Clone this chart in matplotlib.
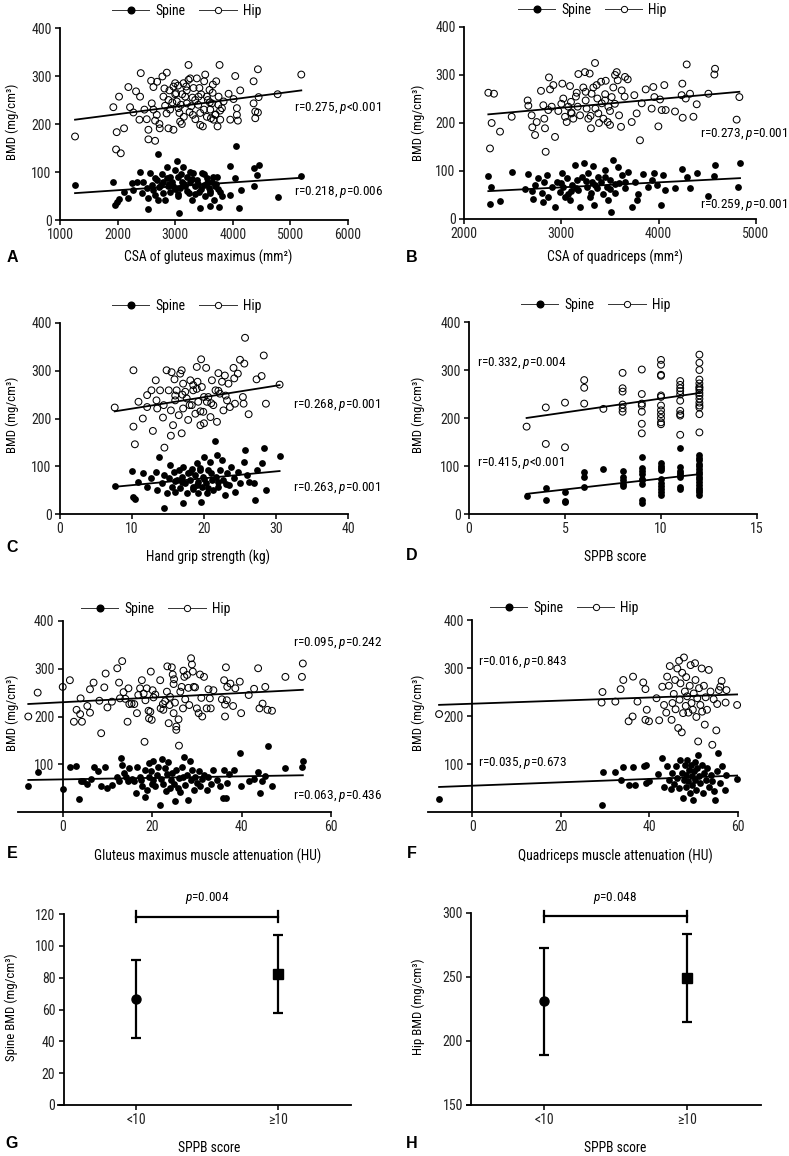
import numpy as np
import matplotlib.pyplot as plt
from matplotlib import font_manager
from matplotlib.lines import Line2D

# ---- data (x, BMD mg/cm3) ----
a_hip = [(1261,174),(1973,147),(2055,139),(1984,183),(2112,191),(1926,235),(2025,257),(2187,277),
         (2216,235),(2274,224),(2320,268),(2402,306),(2390,257),(2379,209),(2466,230),(2506,210),
         (2535,188),(2535,168),(2651,165),(2582,290),(2622,277),(2593,243),(2622,230),(2680,219),
         (2651,207),(2726,200),(2686,288),(2732,191),(2778,299),(2854,307),(2813,274),(2796,257),
         (2825,238),(2883,250),(2912,230),(2883,191),(2970,188),(2970,278),(2999,285),(3016,264),
         (3028,247),(3057,233),(3074,223),(3086,205),(3115,200),(3144,285),(3173,257),(3190,278),
         (3202,243),(3231,292),(3231,323),(3260,295),(3277,237),(3306,219),(3318,275),(3347,250),
         (3376,295),(3405,257),(3434,223),(3434,198),(3480,195),(3503,289),(3521,303),(3550,257),
         (3567,250),(3596,271),(3608,230),(3637,243),(3654,282),(3666,209),(3695,219),(3712,289),
         (3735,195),(3753,257),(3770,323),(3782,209),(3811,233),(3840,247),(3927,263),(3956,209),
         (4013,252),(4042,300),(4071,233),(4071,219),(4088,207),(4129,270),(4361,289),(4361,243),
         (4390,226),(4390,212),(4436,314),(4448,256),(4436,224),(4778,262),(5189,303),
         (2950,245),(3000,262),(3050,280),(3100,240),(3150,215),(3200,270),(3250,225),(3300,255),
         (3350,210),(3400,240),(3450,262),(3500,230),(3550,215),(3600,245),(3650,265),(3700,220),
         (3750,240),(2900,270),(2850,222),(3120,262),(3420,275),(3620,212),(3780,228)]
a_spine = [(1261,72),(1926,80),(1955,31),(1984,38),(2031,43),(2112,59),(2187,45),(2245,78),
           (2274,63),(2332,80),(2390,101),(2419,56),(2448,80),(2506,66),(2535,23),(2535,45),
           (2564,97),(2593,73),(2622,63),(2651,52),(2680,83),(2698,138),(2709,42),(2726,68),
           (2767,95),(2784,56),(2796,80),(2825,42),(2854,111),(2883,70),(2912,90),(2912,59),
           (2941,80),(2970,70),(2999,104),(3028,122),(3040,49),(3057,90),(3074,14),(3086,66),
           (3115,80),(3144,111),(3173,70),(3202,90),(3231,56),(3260,80),(3289,42),(3306,97),
           (3347,70),(3376,83),(3405,59),(3434,24),(3463,97),(3492,73),(3521,49),(3550,87),
           (3579,66),(3596,29),(3608,56),(3637,80),(3666,42),(3695,70),(3724,90),(3753,28),
           (3782,59),(3811,49),(3956,113),(3956,52),(4059,154),(4042,87),(4100,26),(4146,63),
           (4361,70),(4373,108),(4419,94),(4448,115),(4778,47),(5189,92),
           (2900,75),(3000,65),(3100,95),(3200,60),(3300,85),(3400,75),(3500,95),(3600,60),
           (3700,75),(3050,55),(3250,100),(3450,65),(2850,88),(3150,75),(3350,55),(3550,78),
           (3650,90),(3750,65),(2750,72),(2650,88)]

b_hip = [(2250,263),(2308,261),(2267,147),(2284,200),(2370,182),(2490,213),(2654,247),(2661,236),
         (2695,216),(2702,191),(2730,175),(2747,202),(2791,267),(2815,237),(2825,209),(2832,189),
         (2839,140),(2866,227),(2873,295),(2884,270),(2901,234),(2918,279),(2935,171),(2969,225),
         (3010,282),(3020,251),(3038,213),(3055,202),(3072,234),(3089,277),(3099,244),(3106,220),
         (3123,209),(3158,263),(3168,234),(3175,302),(3192,216),(3226,274),(3243,306),(3250,247),
         (3260,230),(3277,209),(3291,303),(3304,189),(3311,261),(3329,274),(3346,325),(3363,279),
         (3370,251),(3380,220),(3387,200),(3408,286),(3415,241),(3432,209),(3449,247),(3456,288),
         (3476,202),(3483,234),(3500,196),(3517,254),(3534,274),(3552,300),(3569,306),(3579,289),
         (3593,216),(3613,192),(3620,268),(3654,296),(3682,291),(3723,202),(3750,258),(3774,220),
         (3808,164),(3826,241),(3867,270),(3928,230),(3945,275),(3956,254),(3997,193),(4014,249),
         (4031,227),(4058,279),(4072,227),(4168,224),(4236,258),(4243,282),(4247,211),(4288,322),
         (4278,251),(4322,261),(4357,213),(4391,239),(4511,261),(4572,301),(4579,313),(4801,207),
         (4829,254),(3000,240),(3150,255),(3250,265),(3350,230),(3450,260),(3550,240),(3650,255),
         (3100,222),(3300,215),(3500,225)]
b_spine = [(2250,90),(2277,67),(2267,31),(2370,37),(2490,97),(2627,62),(2654,94),(2695,58),
           (2712,41),(2730,71),(2764,85),(2798,55),(2815,36),(2825,78),(2849,92),(2866,46),
           (2901,67),(2935,24),(2952,78),(2986,57),(3003,95),(3020,67),(3038,46),(3055,85),
           (3072,53),(3089,40),(3106,71),(3141,112),(3158,81),(3175,60),(3192,26),(3209,88),
           (3236,117),(3260,67),(3277,95),(3291,46),(3311,78),(3329,111),(3339,29),(3363,64),
           (3380,88),(3408,78),(3432,53),(3449,102),(3466,67),(3483,40),(3500,81),(3510,15),
           (3534,123),(3552,55),(3579,109),(3593,74),(3620,92),(3654,64),(3688,98),(3729,26),
           (3757,78),(3774,40),(3791,53),(3843,94),(3894,67),(3928,81),(3956,96),(3980,71),
           (4024,30),(4048,92),(4065,60),(4168,64),(4243,105),(4288,88),(4322,64),(4391,96),
           (4511,48),(4579,112),(4572,89),(4811,67),(4836,116),
           (3000,75),(3150,65),(3250,80),(3350,70),(3450,88),(3550,72),(3650,78),(3100,58),
           (3300,55),(3500,62)]

c_hip = [(7.6,223),(10.2,301),(10.2,183),(10.4,146),(10.9,235),(11.5,200),(12.1,249),(12.1,224),
         (12.7,259),(12.9,174),(13.3,280),(13.4,238),(13.5,221),(13.9,259),(14.3,202),(14.4,228),
         (14.5,139),(14.8,301),(15.1,259),(15.4,217),(15.4,164),(15.5,297),(15.7,186),(15.9,282),
         (16.0,238),(16.2,259),(16.5,207),(16.7,294),(16.9,169),(16.9,301),(17.1,273),(17.1,221),
         (17.4,256),(17.6,242),(17.8,197),(18.1,280),(18.3,228),(18.5,259),(18.8,210),(19.0,308),
         (19.1,277),(19.2,235),(19.5,186),(19.6,324),(19.7,266),(19.9,214),(20.0,190),(20.3,306),
         (20.4,235),(20.6,245),(20.9,203),(21.1,280),(21.3,228),(21.6,259),(21.8,193),(22.0,295),
         (22.2,252),(22.5,277),(22.7,217),(22.9,290),(23.2,238),(23.4,273),(23.6,224),(24.1,306),
         (24.2,284),(24.3,231),(24.7,294),(25.0,323),(25.4,245),(25.5,231),(25.6,315),(25.7,369),
         (26.2,209),(27.3,282),(28.0,289),(28.3,332),(28.6,231),(30.5,271),
         (17,250),(18,228),(19,262),(20,245),(21,232),(22,258),(19.5,215),(18.5,270),(16,248),(23,248)]
c_spine = [(7.6,59),(10.0,91),(10.2,36),(10.4,31),(10.9,66),(11.5,85),(12.1,57),(12.7,75),
           (13.4,88),(13.5,50),(13.8,120),(14.1,64),(14.4,82),(14.5,12),(14.8,43),(15.1,75),
           (15.3,102),(15.5,57),(15.8,88),(16.0,47),(16.2,71),(16.5,92),(16.7,54),(16.9,78),
           (17.1,22),(17.1,99),(17.4,64),(17.6,43),(17.8,85),(18.1,71),(18.3,95),(18.5,57),
           (18.8,82),(19.0,106),(19.1,43),(19.2,68),(19.5,92),(19.6,26),(19.7,57),(19.9,78),
           (20.0,120),(20.3,64),(20.4,43),(20.6,92),(20.9,109),(21.1,71),(21.3,50),(21.5,153),
           (21.6,78),(21.8,123),(22.0,57),(22.2,92),(22.5,113),(22.7,71),(22.9,40),(23.2,85),
           (23.5,61),(23.7,99),(24.1,75),(24.3,47),(24.7,88),(25.0,64),(25.5,109),(25.7,135),
           (26.0,82),(26.2,66),(27.0,64),(27.1,29),(27.3,93),(28.0,106),(28.4,139),(28.6,50),
           (30.5,122),(17,66),(18,88),(19,60),(20,74),(21,86),(22,66),(19.5,96),(18.5,52),
           (16,70),(23,62),(20.5,55)]

d_hip = [(3,182),(4,222),(4,146),(5,232),(5,139),(6,279),(6,263),(6,230),(7,219),
         (8,294),(8,262),(8,255),(8,228),(8,220),(8,213),
         (9,301),(9,250),(9,230),(9,226),(9,213),(9,188),(9,168),
         (10,321),(10,311),(10,290),(10,288),(10,247),(10,244),(10,226),(10,216),(10,208),
         (10,200),(10,191),(10,187),
         (11,277),(11,269),(11,262),(11,256),(11,249),(11,236),(11,215),(11,208),(11,205),(11,165),
         (12,332),(12,315),(12,300),(12,280),(12,272),(12,265),(12,262),(12,258),(12,252),
         (12,247),(12,240),(12,232),(12,226),(12,222),(12,208),(12,170)]
d_spine = [(3,37),(4,54),(4,29),(5,45),(5,27),(5,24),(6,88),(6,77),(6,56),(7,93),
           (8,90),(8,78),(8,70),(8,63),(8,58),
           (9,119),(9,96),(9,90),(9,83),(9,73),(9,70),(9,62),(9,29),(9,22),
           (10,106),(10,101),(10,96),(10,91),(10,73),(10,65),(10,58),(10,52),(10,45),(10,40),
           (11,137),(11,97),(11,90),(11,86),(11,81),(11,77),(11,56),(11,52),
           (12,122),(12,117),(12,112),(12,105),(12,99),(12,94),(12,88),(12,83),(12,78),
           (12,72),(12,66),(12,60),(12,55),(12,50),(12,45),(12,40)]

e_hip = [(-7.7,200),(-5.6,250),(0,262),(1.6,276),(2.5,189),(3.1,214),(3.9,205),(4.0,238),
         (4.3,189),(5.5,222),(6.1,257),(6.1,208),(6.9,271),(8.6,165),(8.2,233),(9.3,261),
         (9.6,290),(10.0,219),(11.0,231),(12.2,301),(12.6,271),(12.8,238),(13.3,316),(13.6,251),
         (14.0,237),(14.5,189),(14.7,259),(14.9,226),(15.4,227),(16.0,226),(16.6,207),(16.9,245),
         (17.3,259),(17.7,276),(18.1,248),(18.3,147),(18.5,234),(18.8,259),(19.2,212),(19.3,196),
         (19.6,210),(19.7,294),(19.9,193),(20.1,255),(20.3,240),(20.7,246),(21.8,276),(21.9,217),
         (22.4,226),(22.5,214),(22.9,232),(23.3,252),(23.4,305),(23.7,186),(23.9,224),(24.0,241),
         (24.4,303),(24.6,288),(24.8,207),(24.8,268),(24.9,278),(25.1,229),(25.4,179),(25.4,172),
         (25.9,194),(26.0,139),(26.3,252),(26.6,262),(26.9,217),(27.0,296),(27.2,283),(27.4,236),
         (27.8,287),(28.1,260),(28.3,224),(28.7,322),(28.9,309),(29.1,294),(29.3,262),(29.6,261),
         (30.0,217),(30.4,207),(30.7,288),(31.0,239),(31.2,200),(31.6,283),(32.2,217),(32.6,257),
         (32.9,238),(33.1,217),(33.7,255),(35.6,236),(36.1,276),(36.3,200),(36.3,225),(36.5,303),
         (36.7,234),(36.8,262),(37.5,269),(38.1,222),(38.6,259),(39.6,273),(39.9,207),(41.6,245),
         (42.8,258),(43.7,301),(44.0,217),(44.7,227),(45.3,262),(45.8,214),(46.8,212),(49.8,283),
         (53.5,283),(53.7,311)]
e_spine = [(-7.7,55),(-5.6,83),(0,48),(1.6,95),(3.0,97),(3.7,28),(4.0,64),(4.5,64),(5.4,59),
           (6.3,69),(6.9,95),(8.0,85),(8.6,54),(9.5,94),(10.0,50),(11.0,56),(12.2,74),(12.6,64),
           (13.1,113),(13.2,99),(13.6,81),(14.2,74),(14.5,64),(14.9,92),(15.4,69),(15.9,64),
           (16.4,40),(16.7,94),(17.2,74),(17.5,67),(17.8,54),(18.3,31),(18.5,88),(18.8,47),
           (19.2,74),(19.4,102),(19.7,85),(19.9,59),(20.1,106),(20.3,67),(20.7,54),(21.0,78),
           (21.4,95),(21.7,14),(21.9,69),(22.2,111),(22.5,59),(22.8,92),(23.1,43),(23.3,79),
           (23.5,104),(23.9,50),(24.2,67),(24.4,81),(24.8,59),(25.2,24),(25.4,88),(25.7,50),
           (25.9,71),(26.3,42),(26.6,95),(26.9,74),(27.2,115),(27.4,57),(27.8,78),(28.1,26),
           (28.4,106),(28.7,67),(28.9,88),(29.3,47),(29.6,74),(30.0,61),(30.4,85),(30.7,54),
           (31.1,69),(31.5,78),(32.2,47),(32.6,74),(33.1,59),(33.7,88),(34.5,67),(35.2,54),
           (35.8,29),(36.1,88),(36.6,29),(36.7,61),(37.3,79),(38.2,87),(39.9,55),(39.7,123),
           (41.6,64),(42.7,69),(43.6,83),(44.2,40),(44.6,64),(45.3,76),(46.0,138),(46.8,54),
           (49.8,92),(53.5,94),(53.7,106)]

f_hip = [(-7.5,204),(29.4,250),(29.2,228),(32.3,230),(33.5,256),(34.1,275),(35.3,189),(36.2,199),
         (36.3,282),(37.3,230),(38.6,270),(39.1,256),(39.1,192),(39.4,213),(39.9,189),(42.2,191),
         (42.9,261),(41.6,237),(43.3,223),(43.8,207),(44.0,282),(44.4,263),(44.6,304),(45.0,192),
         (45.2,227),(45.5,246),(45.8,275),(45.9,214),(46.3,299),(46.5,175),(46.7,315),(46.8,234),
         (47.0,268),(47.3,166),(47.4,290),(47.6,206),(47.8,322),(48.0,251),(48.2,221),(48.3,281),
         (48.5,241),(48.8,207),(49.1,263),(49.3,306),(49.5,227),(49.8,213),(50.0,247),(50.3,310),
         (50.4,275),(50.6,198),(50.8,237),(51.0,147),(51.2,258),(51.5,223),(51.8,299),(51.9,209),
         (52.3,263),(52.5,182),(52.7,239),(53.0,213),(53.4,296),(53.8,251),(54.2,140),(54.5,235),
         (55.1,170),(55.3,225),(55.7,254),(56.0,261),(56.3,273),(57.2,228),(57.4,254),(59.8,223)]
f_spine = [(-7.5,28),(29.2,15),(29.6,83),(32.3,83),(33.5,67),(34.1,94),(35.4,57),(36.3,93),
           (36.7,57),(38.8,96),(39.2,60),(39.3,97),(39.9,64),(42.0,80),(42.9,112),(43.3,53),
           (44.0,95),(44.4,67),(44.8,48),(45.2,81),(45.5,59),(45.9,95),(46.3,71),(46.7,50),
           (47.0,109),(47.3,81),(47.6,29),(47.8,67),(48.0,98),(48.2,53),(48.3,78),(48.5,109),
           (48.8,64),(48.9,88),(49.1,40),(49.3,98),(49.5,74),(49.7,57),(49.9,26),(50.0,85),
           (50.3,105),(50.4,67),(50.6,46),(50.8,92),(51.0,118),(51.2,74),(51.5,60),(51.8,98),
           (52.1,40),(52.3,81),(52.7,67),(53.0,92),(53.4,53),(53.8,78),(54.2,64),(54.5,43),
           (54.9,24),(55.3,85),(55.5,123),(56.0,60),(56.4,95),(57.0,45),(57.2,78),(59.8,69)]

# regression lines as printed (slope, intercept) for spine and hip
fits = {
    'A': ((0.00815, 45.7), (0.01553, 189.4)),
    'B': ((0.01047, 34.5), (0.01822, 177.0)),
    'C': ((1.441, 46.0), (2.40, 196.7)),
    'D': ((4.556, 28.3), (5.78, 182.7)),
    'E': ((0.161, 68.3), (0.484, 229.9)),
    'F': ((0.353, 54.8), (0.3235, 225.6)),
}

# group comparison by SPPB score (mean, SD)
groups = ['<10', '≥10']
spine_mean = [66.4, 82.3]
spine_sd = [24.4, 24.2]
hip_mean = [231.0, 249.0]
hip_sd = [42.0, 34.5]

stats = {
    'A': ('r=0.275, $\\mathit{p}$<0.001', 'r=0.218, $\\mathit{p}$=0.006'),
    'B': ('r=0.273, $\\mathit{p}$=0.001', 'r=0.259, $\\mathit{p}$=0.001'),
    'C': ('r=0.268, $\\mathit{p}$=0.001', 'r=0.263, $\\mathit{p}$=0.001'),
    'D': ('r=0.332, $\\mathit{p}$=0.004', 'r=0.415, $\\mathit{p}$<0.001'),
    'E': ('r=0.095, $\\mathit{p}$=0.242', 'r=0.063, $\\mathit{p}$=0.436'),
    'F': ('r=0.016, $\\mathit{p}$=0.843', 'r=0.035, $\\mathit{p}$=0.673'),
}

# ---- fonts: prefer a condensed face, like the original ----
available = {f.name for f in font_manager.fontManager.ttflist}
condensed = [n for n in ('Liberation Sans Narrow', 'Roboto Condensed', 'Open Sans Condensed')
             if n in available]
main_font = condensed[0] if condensed else 'Liberation Sans'
fs = 9.5 if condensed else 8.4
plt.rcParams['font.family'] = [main_font, 'DejaVu Sans']
plt.rcParams['mathtext.fontset'] = 'custom'
plt.rcParams['mathtext.rm'] = main_font
plt.rcParams['mathtext.it'] = main_font + ':italic'
plt.rcParams['axes.linewidth'] = 1.3
plt.rcParams['xtick.major.width'] = 1.3
plt.rcParams['ytick.major.width'] = 1.3
plt.rcParams['xtick.major.size'] = 3.5
plt.rcParams['ytick.major.size'] = 3.5
plt.rcParams['xtick.labelsize'] = fs + 0.5
plt.rcParams['ytick.labelsize'] = fs + 0.5

W, H = 789, 1156
fig = plt.figure(figsize=(W / 100, H / 100), dpi=100)


def add_axes(left, top, right, bottom):
    ax = fig.add_axes([left / W, 1 - bottom / H, (right - left) / W, (bottom - top) / H])
    ax.spines['top'].set_visible(False)
    ax.spines['right'].set_visible(False)
    ax.tick_params(direction='out', colors='#222222', pad=2.5)
    return ax


def fig_text(x, y, s, **kw):
    fig.text(x / W, 1 - y / H, s, ha='center', va='center', **kw)


def scatter_panel(ax, key, spine, hip, hip_pos, spine_pos, leg_y):
    sx, sy = np.array(spine, dtype=float).T
    hx, hy = np.array(hip, dtype=float).T
    ax.scatter(sx, sy, s=24, c='black', linewidths=0, zorder=3, clip_on=False)
    ax.scatter(hx, hy, s=24, facecolors='none', edgecolors='black', linewidths=0.75,
               zorder=3, clip_on=False)
    for x, (k, b) in zip((sx, hx), fits[key]):
        xx = np.array([x.min(), x.max()])
        ax.plot(xx, k * xx + b, color='black', lw=1.3, zorder=4)
    ax.text(*hip_pos, stats[key][0], fontsize=fs, va='center', clip_on=False)
    ax.text(*spine_pos, stats[key][1], fontsize=fs, va='center', clip_on=False)
    handles = [Line2D([0], [0], color='#333333', lw=0.7, marker='o', ms=4.8, mfc='black',
                      mec='black'),
               Line2D([0], [0], color='#333333', lw=0.7, marker='o', ms=4.5, mfc='white',
                      mec='black', mew=0.7)]
    ax.legend(handles, ['Spine', 'Hip'], loc='center', bbox_to_anchor=(0.44, leg_y), ncol=2,
              frameon=False, handlelength=2.7, handletextpad=0.45, columnspacing=1.0,
              fontsize=fs + 0.4)


# A
ax = add_axes(60, 28, 348, 220)
scatter_panel(ax, 'A', a_spine, a_hip, (5060, 233), (5060, 58), 1.09)
ax.set_xlim(1000, 6000)
ax.set_ylim(0, 400)
ax.set_xticks([1000, 2000, 3000, 4000, 5000, 6000])
ax.set_yticks([0, 100, 200, 300, 400])

# B
ax = add_axes(464, 27, 756, 219)
scatter_panel(ax, 'B', b_spine, b_hip, (4420, 177), (4420, 29), 1.09)
ax.set_xlim(2000, 5000)
ax.set_ylim(0, 400)
ax.set_xticks([2000, 3000, 4000, 5000])
ax.set_yticks([0, 100, 200, 300, 400])

# C
ax = add_axes(60, 323, 348, 514)
scatter_panel(ax, 'C', c_spine, c_hip, (32.4, 228), (32.4, 54), 1.09)
ax.set_xlim(0, 40)
ax.set_ylim(0, 400)
ax.set_xticks([0, 10, 20, 30, 40])
ax.set_yticks([0, 100, 200, 300, 400])

# D
ax = add_axes(469, 322, 757, 514)
scatter_panel(ax, 'D', d_spine, d_hip, (0.4, 314), (0.4, 106), 1.09)
ax.set_xlim(0, 15)
ax.set_ylim(0, 400)
ax.set_xticks([0, 5, 10, 15])
ax.set_yticks([0, 100, 200, 300, 400])

# E
ax = add_axes(18, 621, 331, 812)
scatter_panel(ax, 'E', e_spine, e_hip, (51.6, 353), (51.6, 34), 1.065)
ax.set_xlim(-10, 60)
ax.set_ylim(0, 400)
ax.spines['left'].set_position(('data', 0))
ax.set_xticks([0, 20, 40, 60])
ax.set_yticks([100, 200, 300, 400])

# F
ax = add_axes(428, 620, 738, 812)
scatter_panel(ax, 'F', f_spine, f_hip, (1.4, 313), (1.4, 103), 1.065)
ax.set_xlim(-10, 60)
ax.set_ylim(0, 400)
ax.spines['left'].set_position(('data', 0))
ax.set_xticks([0, 20, 40, 60])
ax.set_yticks([100, 200, 300, 400])


def group_panel(ax, mean, sd, bracket_y, tick_h, p_text):
    pos = np.arange(1, len(groups) + 1)
    for x, m, s, mk in zip(pos, mean, sd, ['o', 's']):
        ax.errorbar(x, m, yerr=s, fmt=mk, color='black', ms=6.5, elinewidth=1.6,
                    capsize=3.5, capthick=1.6, zorder=3)
    ax.plot([pos[0], pos[-1]], [bracket_y, bracket_y], color='black', lw=1.6, clip_on=False)
    for x in (pos[0], pos[-1]):
        ax.plot([x, x], [bracket_y - tick_h, bracket_y + tick_h], color='black', lw=1.6,
                clip_on=False)
    ax.text(pos.mean(), bracket_y + 3.4 * tick_h, p_text, ha='center', va='center',
            fontsize=fs, clip_on=False)
    ax.set_xticks(pos)
    ax.set_xticklabels(groups)
    ax.spines['left'].set_position(('data', 0.49))


# G
ax = add_axes(58, 914, 351, 1105)
group_panel(ax, spine_mean, spine_sd, 118.3, 3.4, '$\\mathit{p}$=0.004')
ax.set_xlim(0.45, 2.51)
ax.set_ylim(0, 120)
ax.set_yticks(np.arange(0, 121, 20))

# H
ax = add_axes(467, 913, 761, 1105)
group_panel(ax, hip_mean, hip_sd, 297.4, 4.2, '$\\mathit{p}$=0.048')
ax.set_xlim(0.46, 2.52)
ax.set_ylim(150, 300)
ax.set_yticks([150, 200, 250, 300])

# axis titles and panel letters
xlabels = [('CSA of gluteus maximus (mm²)', 208, 257), ('CSA of quadriceps (mm²)', 615, 257),
           ('Hand grip strength (kg)', 208, 557), ('SPPB score', 615, 557),
           ('Gluteus maximus muscle attenuation (HU)', 208, 856),
           ('Quadriceps muscle attenuation (HU)', 615, 856),
           ('SPPB score', 209, 1148), ('SPPB score', 615, 1148)]
for s, x, y in xlabels:
    fig_text(x, y, s, fontsize=fs + 0.3)

ylabels = [('BMD (mg/cm³)', 12, 122), ('BMD (mg/cm³)', 418, 123), ('BMD (mg/cm³)', 12, 415),
           ('BMD (mg/cm³)', 418, 415), ('BMD (mg/cm³)', 12, 713), ('BMD (mg/cm³)', 418, 713),
           ('Spine BMD (mg/cm³)', 11, 1007), ('Hip BMD (mg/cm³)', 418, 1007)]
for s, x, y in ylabels:
    fig_text(x, y, s, fontsize=fs - 0.2, rotation=90)

letters = [('A', 12, 257), ('B', 412, 257), ('C', 12, 547), ('D', 412, 555),
           ('E', 12, 853), ('F', 412, 853), ('G', 12, 1143), ('H', 412, 1143)]
for s, x, y in letters:
    fig_text(x, y, s, fontsize=11.5, fontweight='bold', family=['Liberation Sans', 'DejaVu Sans'])

fig.savefig('out.png', dpi=100)
